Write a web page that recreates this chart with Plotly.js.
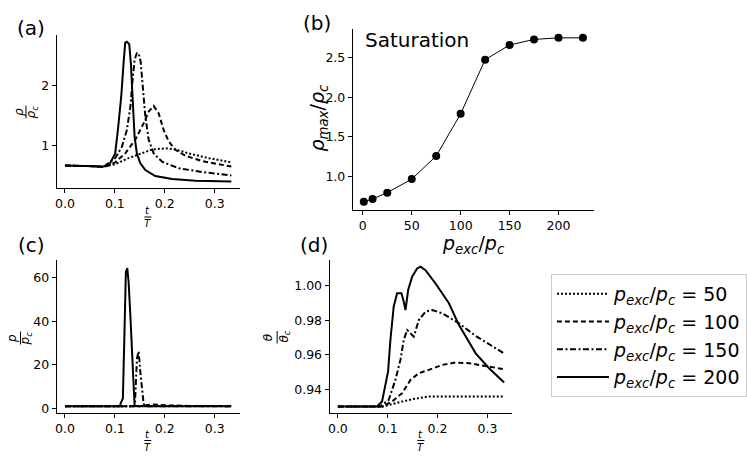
<!DOCTYPE html>
<html>
<head>
<meta charset="utf-8">
<script src="https://cdn.plot.ly/plotly-3.0.1.min.js"></script>
<style>
  html, body { margin: 0; padding: 0; background: white; }
  #fig { width: 747px; height: 462px; }
</style>
</head>
<body>
<div id="fig"></div>
<script>
// ---- data ----
var labels = ['50', '100', '150', '200'];
var dashes = ['2px,2px', '5px,3px', '6px,2.5px,2px,2.5px', 'solid'];

// (a) rho / rho_c vs t/T
var tA50   = [0, 0.04, 0.06, 0.075, 0.085, 0.1006, 0.1274, 0.1543, 0.1744, 0.2012, 0.2213, 0.248, 0.2884, 0.3333];
var rhoA50 = [0.665, 0.665, 0.655, 0.645, 0.66, 0.69, 0.79, 0.88, 0.935, 0.955, 0.935, 0.87, 0.79, 0.72];
var tA100   = [0, 0.04, 0.06, 0.075, 0.085, 0.1006, 0.1207, 0.1409, 0.1576, 0.1677, 0.1777, 0.1878, 0.1978, 0.2079, 0.2213, 0.2414, 0.275, 0.3333];
var rhoA100 = [0.665, 0.665, 0.655, 0.645, 0.66, 0.72, 0.87, 1.10, 1.375, 1.57, 1.665, 1.54, 1.26, 1.07, 0.93, 0.83, 0.74, 0.65];
var tA150   = [0, 0.04, 0.06, 0.075, 0.0805, 0.1006, 0.114, 0.124, 0.131, 0.1355, 0.1395, 0.144, 0.1476, 0.1516, 0.1556, 0.161, 0.1677, 0.1777, 0.1945, 0.228, 0.2817, 0.3333];
var rhoA150 = [0.665, 0.665, 0.655, 0.645, 0.665, 0.79, 0.98, 1.26, 1.65, 2.10, 2.44, 2.55, 2.55, 2.41, 2.05, 1.49, 1.10, 0.87, 0.73, 0.62, 0.55, 0.50];
var tA200   = [0, 0.04, 0.06, 0.075, 0.085, 0.0905, 0.1006, 0.106, 0.1107, 0.1127, 0.1174, 0.1207, 0.124, 0.1288, 0.132, 0.1355, 0.1395, 0.144, 0.151, 0.161, 0.181, 0.2147, 0.2616, 0.3333];
var rhoA200 = [0.665, 0.665, 0.655, 0.645, 0.665, 0.705, 0.87, 1.26, 1.65, 1.82, 2.38, 2.725, 2.74, 2.70, 2.38, 1.71, 1.15, 0.87, 0.705, 0.59, 0.49, 0.44, 0.41, 0.40];

// (b) max density vs excitation pressure
var pExc   = [1, 10, 25, 50, 75, 100, 125, 150, 175, 200, 225];
var rhoMax = [0.686, 0.72, 0.80, 0.97, 1.26, 1.79, 2.47, 2.655, 2.725, 2.745, 2.745];
var satX = [-5, 222];
var satY = [2.894, 2.894];

// (c) p / p_c vs t/T
var tC50  = [0, 0.15, 0.2, 0.3333];
var pC50  = [1.0, 1.0, 1.15, 1.05];
var tC100 = [0, 0.15, 0.175, 0.2, 0.25, 0.3333];
var pC100 = [1.0, 1.0, 1.8, 1.4, 1.1, 1.0];
var tC150 = [0, 0.14, 0.1442, 0.1476, 0.151, 0.1543, 0.1576, 0.161, 0.3333];
var pC150 = [1.0, 1.0, 22.8, 26.2, 16.7, 7.5, 2.1, 1.0, 1.0];
var tC200 = [0, 0.11, 0.112, 0.116, 0.1194, 0.122, 0.1248, 0.1275, 0.131, 0.1342, 0.1375, 0.1395, 0.145, 0.3333];
var pC200 = [1.0, 1.0, 2.5, 4.5, 36.6, 62.6, 64.4, 58, 42.7, 24.3, 6, 1.2, 1.0, 1.0];

// (d) theta / theta_c vs t/T
var tD50  = [0, 0.09, 0.1154, 0.149, 0.1826, 0.2362, 0.3333];
var thD50 = [0.930, 0.930, 0.9319, 0.9342, 0.9358, 0.9358, 0.9358];
var tD100  = [0, 0.09, 0.1087, 0.1289, 0.1456, 0.1624, 0.1826, 0.2094, 0.2362, 0.2631, 0.3034, 0.3333];
var thD100 = [0.930, 0.930, 0.9329, 0.9377, 0.9454, 0.9493, 0.9512, 0.9541, 0.9555, 0.9551, 0.9531, 0.9516];
var tD150  = [0, 0.085, 0.102, 0.1154, 0.1255, 0.1322, 0.139, 0.1456, 0.1523, 0.1624, 0.1758, 0.1893, 0.2094, 0.243, 0.2765, 0.3333];
var thD150 = [0.930, 0.930, 0.9338, 0.9454, 0.957, 0.9686, 0.9743, 0.9724, 0.9705, 0.9801, 0.985, 0.9859, 0.984, 0.9782, 0.9709, 0.9608];
var tD200  = [0, 0.0785, 0.0886, 0.0953, 0.1007, 0.1054, 0.112, 0.1188, 0.1275, 0.1322, 0.1356, 0.141, 0.149, 0.159, 0.1658, 0.1758, 0.196, 0.2228, 0.243, 0.2765, 0.3034, 0.3336];
var thD200 = [0.930, 0.930, 0.9329, 0.9416, 0.9502, 0.9686, 0.9878, 0.9956, 0.9956, 0.9907, 0.9859, 0.9975, 1.0052, 1.0100, 1.011, 1.009, 1.0013, 0.9898, 0.9772, 0.9608, 0.9522, 0.9439];

// ---- helpers ----
var W = 747, H = 462;
function px(x) { return x / W; }
function py(y) { return 1 - y / H; }
var FONT = 'DejaVu Sans, sans-serif';

function axis(d, range, tickvals, fmt, anchor) {
  return {
    domain: d, range: range, tickvals: tickvals, tickformat: fmt, anchor: anchor,
    showline: true, linecolor: 'black', linewidth: 1, mirror: false,
    ticks: 'outside', ticklen: 4, tickwidth: 1, tickcolor: 'black',
    showgrid: false, zeroline: false, fixedrange: true,
    tickfont: {family: FONT, size: 12.5, color: 'black'}
  };
}

function note(text, x, y, size, extra) {
  var a = {text: text, x: px(x), y: py(y), xref: 'paper', yref: 'paper',
    showarrow: false, xanchor: 'center', yanchor: 'middle',
    font: {family: FONT, size: size, color: 'black'}};
  for (var k in extra) a[k] = extra[k];
  return a;
}

function bar(x0, y0, x1, y1) {
  return {type: 'line', xref: 'paper', yref: 'paper',
    x0: px(x0), y0: py(y0), x1: px(x1), y1: py(y1),
    line: {color: 'black', width: 1}};
}

function series(t, v, i, xa, ya, legend) {
  return {x: t, y: v, xaxis: xa, yaxis: ya, mode: 'lines', type: 'scatter',
    name: '<i>p<sub>exc</sub></i>/<i>p<sub>c</sub></i> = ' + labels[i],
    showlegend: legend, hoverinfo: 'skip',
    line: {color: 'black', width: 2, dash: dashes[i]}};
}

var data = [
  series(tA50, rhoA50, 0, 'x', 'y', true),
  series(tA100, rhoA100, 1, 'x', 'y', true),
  series(tA150, rhoA150, 2, 'x', 'y', true),
  series(tA200, rhoA200, 3, 'x', 'y', true),
  {x: pExc, y: rhoMax, xaxis: 'x2', yaxis: 'y2', mode: 'lines+markers', type: 'scatter',
    showlegend: false, line: {color: 'black', width: 1}, marker: {color: 'black', size: 8}},
  {x: satX, y: satY, xaxis: 'x2', yaxis: 'y2', mode: 'lines', type: 'scatter',
    showlegend: false, cliponaxis: false, line: {color: 'black', width: 2, dash: '12px,7px'}},
  series(tC50, pC50, 0, 'x3', 'y3', false),
  series(tC100, pC100, 1, 'x3', 'y3', false),
  series(tC150, pC150, 2, 'x3', 'y3', false),
  series(tC200, pC200, 3, 'x3', 'y3', false),
  series(tD50, thD50, 0, 'x4', 'y4', false),
  series(tD100, thD100, 1, 'x4', 'y4', false),
  series(tD150, thD150, 2, 'x4', 'y4', false),
  series(tD200, thD200, 3, 'x4', 'y4', false)
];

var tRange = [-0.0167, 0.35];
var tTicks = [0, 0.1, 0.2, 0.3];

// t over T, stacked in one text block; the bar is a shape
var tOverT = '<i>t</i><br><i>T</i>';

var annotations = [
  note('(a)', 15, 28, 20, {xanchor: 'left'}),
  note('(b)', 301, 23, 20, {xanchor: 'left'}),
  note('(c)', 16, 245, 20, {xanchor: 'left'}),
  note('(d)', 298, 245, 20, {xanchor: 'left'}),
  // (a) labels
  note(tOverT, 148, 217, 10),
  note('<i>ρ</i>', 19, 112, 12, {textangle: -90}),
  note('<i>ρ<sub>c</sub></i>', 32.5, 112, 12, {textangle: -90}),
  // (b) labels
  note('<i>ρ<sub>max</sub></i>/<i>ρ<sub>c</sub></i>', 318, 118, 19, {textangle: -90}),
  note('<i>p<sub>exc</sub></i>/<i>p<sub>c</sub></i>', 474, 244, 19),
  {text: 'Saturation', x: 0, y: 2.72, xref: 'x2', yref: 'y2', showarrow: false,
    xanchor: 'left', yanchor: 'middle', font: {family: FONT, size: 20, color: 'black'}},
  // (c) labels
  note(tOverT, 148, 440.5, 10),
  note('<i>p</i>', 12, 338, 12, {textangle: -90}),
  note('<i>p<sub>c</sub></i>', 26.5, 338, 12, {textangle: -90}),
  // (d) labels
  note(tOverT, 421.5, 440.5, 10),
  note('<i>θ</i>', 268.5, 337, 12, {textangle: -90}),
  note('<i>θ<sub>c</sub></i>', 285, 337, 12, {textangle: -90})
];

var shapes = [
  bar(144.5, 217, 151.5, 217),
  bar(26, 105.5, 26, 118.5),
  bar(144.5, 440.5, 151.5, 440.5),
  bar(20.5, 331.5, 20.5, 344.5),
  bar(418, 440.5, 425, 440.5),
  bar(277.5, 331, 277.5, 343.5)
];

var layout = {
  width: W, height: H,
  margin: {l: 0, r: 0, t: 0, b: 0, pad: 0},
  paper_bgcolor: 'white', plot_bgcolor: 'white',
  font: {family: FONT, color: 'black'},
  xaxis:  axis([px(56.7), px(240)], tRange, tTicks, '.1f', 'y'),
  yaxis:  axis([py(188), py(35)], [0.29, 2.854], [1, 2], 'd', 'x'),
  xaxis2: axis([px(353.3), px(595)], [-10.2, 236.5], [0, 50, 100, 150, 200], 'd', 'y2'),
  yaxis2: axis([py(210), py(29)], [0.582, 2.856], [1.0, 1.5, 2.0, 2.5], '.1f', 'x2'),
  xaxis3: axis([px(56.7), px(240)], tRange, tTicks, '.1f', 'y3'),
  yaxis3: axis([py(412.7), py(260)], [-2.0, 68.1], [0, 20, 40, 60], 'd', 'x3'),
  xaxis4: axis([px(330), px(513)], tRange, tTicks, '.1f', 'y4'),
  yaxis4: axis([py(412.7), py(260)], [0.9264, 1.0149], [0.94, 0.96, 0.98, 1.00], '.2f', 'x4'),
  showlegend: true,
  legend: {
    x: px(551.7), y: py(274), xanchor: 'left', yanchor: 'top',
    bgcolor: 'white', bordercolor: '#cccccc', borderwidth: 1,
    font: {family: FONT, size: 19, color: 'black'},
    itemwidth: 52, tracegroupgap: 0
  },
  annotations: annotations,
  shapes: shapes
};

Plotly.newPlot('fig', data, layout, {displayModeBar: false, staticPlot: true});
</script>
</body>
</html>
